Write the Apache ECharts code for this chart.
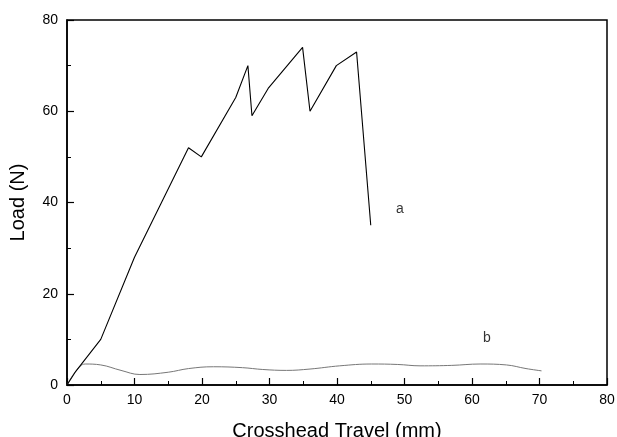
<!DOCTYPE html>
<html>
<head>
<meta charset="utf-8">
<script src="https://cdn.jsdelivr.net/npm/echarts@6/dist/echarts.min.js"></script>
<style>
  html, body { margin: 0; padding: 0; background: #fff; }
  #chart { width: 617px; height: 437px; }
</style>
</head>
<body>
<div id="chart"></div>
<script>
// Specimen a: crosshead travel (mm) and load (N)
const travelA = [0, 1.3, 5, 10, 18, 19.9, 25, 26.8, 27.4, 29.8, 34.9, 36, 39.9, 42.9, 45];
const loadA   = [0, 3, 10, 28, 52, 50, 63, 70, 59, 65, 74, 60, 70, 73, 35];

// Specimen b
const travelB = [0, 1.3, 2.7, 5, 8, 10.8, 15, 18, 21.7, 26, 29, 32.5, 36, 40.4, 45.1, 49, 52.3, 57, 61.2, 65.1, 68, 70.3];
const loadB   = [0, 3, 4.6, 4.4, 3.2, 2.3, 2.8, 3.6, 4.0, 3.8, 3.4, 3.2, 3.5, 4.2, 4.6, 4.5, 4.2, 4.3, 4.6, 4.4, 3.6, 3.1];

// Axis ticks
const xTicks = [0, 10, 20, 30, 40, 50, 60, 70, 80];
const yTicks = [0, 20, 40, 60, 80];

// Curve labels
const curveLabels = [
  { text: 'a', x: 49.3, y: 38.6 },
  { text: 'b', x: 62.2, y: 10.3 }
];

const pair = (xs, ys) => xs.map((x, i) => [x, ys[i]]);

const chart = echarts.init(document.getElementById('chart'), null, { renderer: 'canvas' });

const axisCommon = {
  type: 'value',
  min: 0,
  max: 80,
  axisLine: { show: true, onZero: false, lineStyle: { color: '#000', width: 1.5 } },
  axisTick: { show: true, inside: true, length: 7, lineStyle: { color: '#000', width: 1.2 } },
  minorTick: { show: true, splitNumber: 2, length: 4, lineStyle: { color: '#000', width: 1 } },
  splitLine: { show: false },
  nameTextStyle: { fontFamily: 'Liberation Sans', fontSize: 20, color: '#000' },
  axisLabel: { fontFamily: 'Liberation Sans', fontSize: 14, color: '#000' }
};

chart.setOption({
  animation: false,
  backgroundColor: '#fff',
  grid: {
    left: 67, right: 10, top: 20, bottom: 52,
    outerBoundsMode: 'none',
    show: true, borderColor: '#000', borderWidth: 1.5, backgroundColor: 'transparent'
  },
  xAxis: Object.assign({}, axisCommon, {
    interval: 10,
    name: 'Crosshead Travel (mm)',
    nameLocation: 'middle',
    nameGap: 36,
    axisLabel: Object.assign({}, axisCommon.axisLabel, {
      margin: 8,
      formatter: v => xTicks.includes(v) ? String(v) : ''
    })
  }),
  yAxis: Object.assign({}, axisCommon, {
    interval: 20,
    name: 'Load (N)',
    nameLocation: 'middle',
    nameGap: 39,
    axisLabel: Object.assign({}, axisCommon.axisLabel, {
      margin: 9,
      formatter: v => yTicks.includes(v) ? String(v) : ''
    })
  }),
  series: [
    {
      type: 'line',
      data: pair(travelA, loadA),
      showSymbol: false,
      lineStyle: { color: '#000', width: 1.1 },
      z: 3
    },
    {
      type: 'line',
      data: pair(travelB, loadB),
      smooth: 0.4,
      showSymbol: false,
      lineStyle: { color: '#777', width: 1 },
      z: 2
    },
    {
      type: 'scatter',
      data: curveLabels.map(l => ({ value: [l.x, l.y], name: l.text })),
      symbolSize: 0,
      label: {
        show: true,
        position: 'inside',
        formatter: p => p.name,
        fontFamily: 'Liberation Sans',
        fontSize: 14,
        color: '#000'
      },
      silent: true
    }
  ]
});
</script>
</body>
</html>
